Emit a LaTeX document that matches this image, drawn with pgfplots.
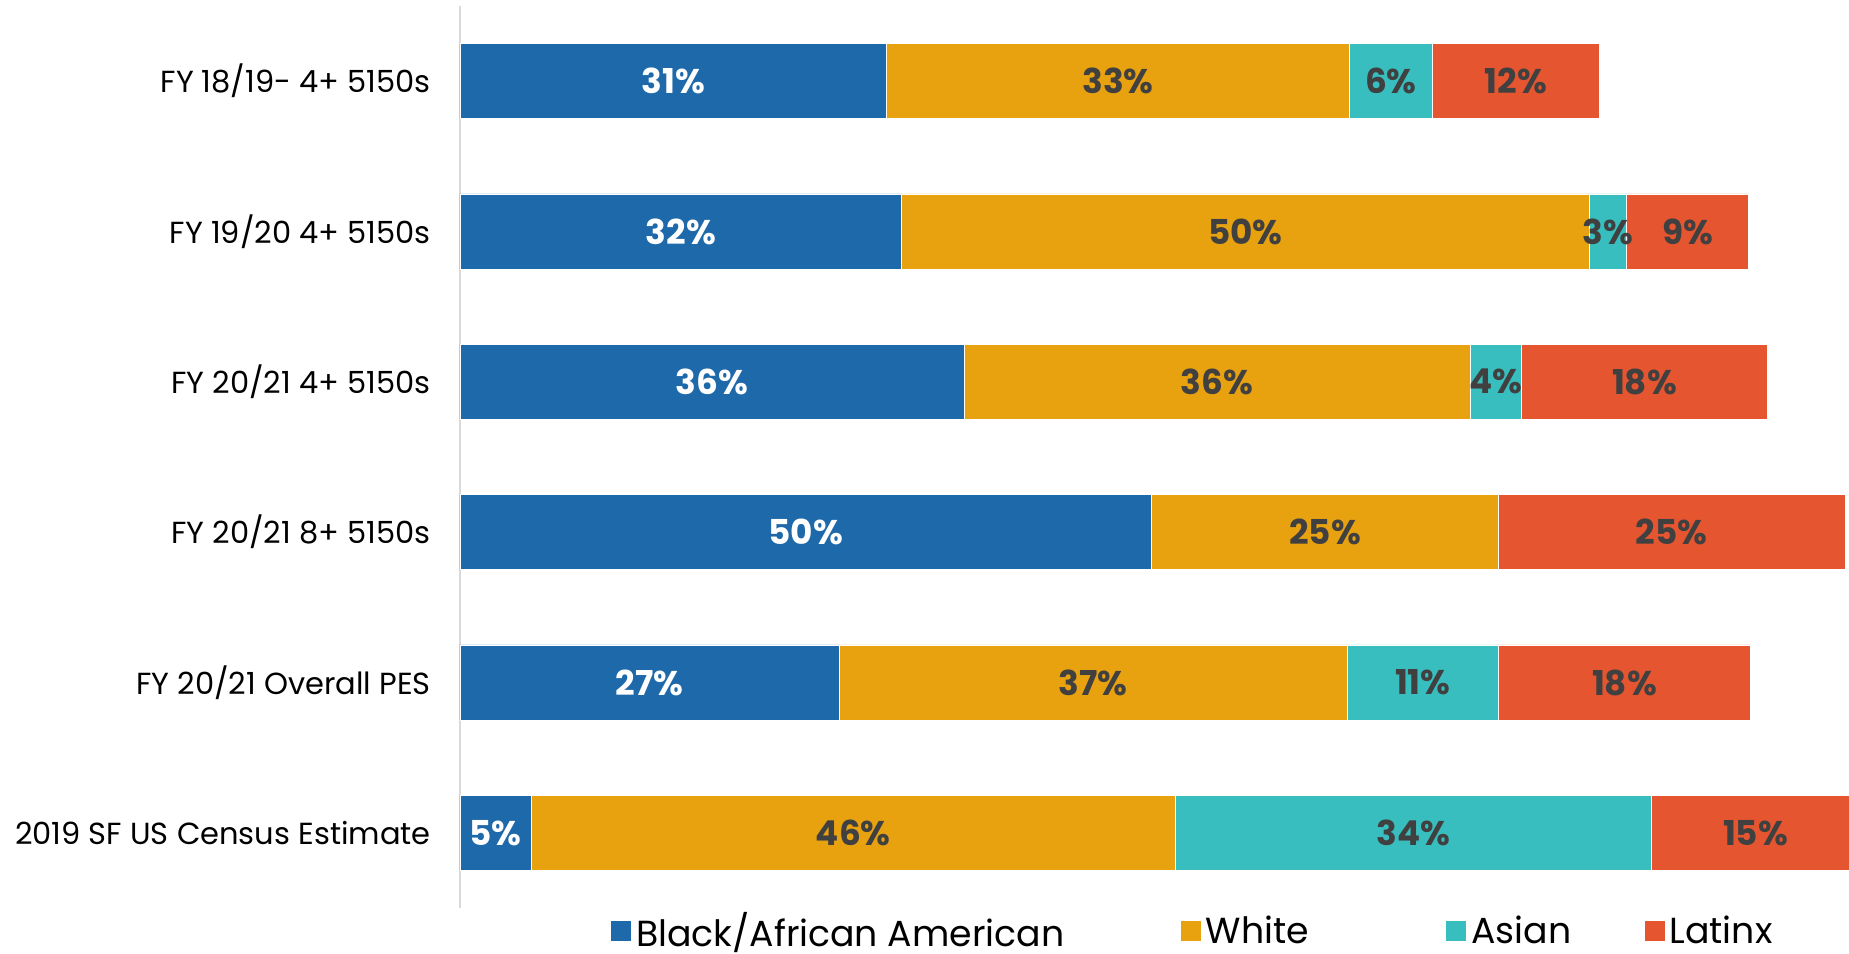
\documentclass[border=0pt]{standalone}
\usepackage{fontspec}
\setmainfont{Poppins}
\usepackage{pgfplots}
\usepackage{pgfplotstable}
\pgfplotsset{compat=1.18}
\definecolor{cBlack}{RGB}{30,105,170}
\definecolor{cWhite}{RGB}{232,162,16}
\definecolor{cAsian}{RGB}{56,190,190}
\definecolor{cLatinx}{RGB}{229,85,48}
\definecolor{labgray}{RGB}{64,64,64}
\definecolor{axisgray}{RGB}{217,217,217}
\pgfplotstableread{
y  b     bl     w     wl     a     al     l     ll
0  30.78 31\%   33.46 33\%   5.96  6\%    12.09 12\%
1  31.89 32\%   49.63 50\%   2.73  3\%    8.77  9\%
2  36.40 36\%   36.53 36\%   3.74  4\%    17.71 18\%
3  49.94 50\%   25.03 25\%   0     {}     25.03 25\%
4  27.37 27\%   36.70 37\%   10.90 11\%   18.22 18\%
5  5.15  5\%    46.49 46\%   34.40 34\%   15.00 15\%
}\datatable
\begin{document}
\begin{tikzpicture}
\begin{axis}[
  at={(0pt,0pt)}, anchor=south west,
  scale only axis,
  width=559.76pt, height=360.8pt,
  xbar stacked,
  bar width=0.5,
  xmin=0, xmax=101.04,
  ymin=-0.5, ymax=5.5,
  y dir=reverse,
  axis x line=none,
  axis y line*=left,
  y axis line style={draw=axisgray, line width=0.8pt},
  ytick={0,1,2,3,4,5},
  yticklabels={FY 18/19- 4+ 5150s, FY 19/20 4+ 5150s, FY 20/21 4+ 5150s, FY 20/21 8+ 5150s, FY 20/21 Overall PES, 2019 SF US Census Estimate},
  major tick length=0pt,
  yticklabel style={font=\fontsize{12.2}{15}\selectfont, color=black, inner sep=0pt, anchor=east, xshift=-11.5pt},
  point meta=explicit symbolic,
  nodes near coords,
  nodes near coords align=center,
  every node near coord/.append style={font=\bfseries\fontsize{13.7}{16}\selectfont, anchor=center},
  legend image code/.code={\fill[#1, draw=none] (0pt,-4pt) rectangle (8pt,4pt);},
  legend columns=4,
  legend style={draw=none, fill=none, inner sep=0pt, at={(0.1076,-0.026)}, anchor=west,
    font=\fontsize{14.5}{16}\selectfont,
    /tikz/every even column/.append style={column sep=0pt}},
]
\addplot[fill=cBlack, draw=white, line width=0.3pt, every node near coord/.append style={color=white}] table[x=b, y=y, meta=bl] {\datatable};
\addlegendentry{\makebox[215.9pt][l]{Black/African American}}
\addplot[fill=cWhite, draw=white, line width=0.3pt, every node near coord/.append style={color=labgray}] table[x=w, y=y, meta=wl] {\datatable};
\addlegendentry{\makebox[94.2pt][l]{White}}
\addplot[fill=cAsian, draw=white, line width=0.3pt, every node near coord/.append style={color=labgray}] table[x=a, y=y, meta=al] {\datatable};
\addlegendentry{\makebox[67.3pt][l]{Asian}}
\addplot[fill=cLatinx, draw=white, line width=0.3pt, every node near coord/.append style={color=labgray}] table[x=l, y=y, meta=ll] {\datatable};
\addlegendentry{Latinx}
\end{axis}
\pgfresetboundingbox
\path[use as bounding box] (-184pt,-18.4pt) rectangle (555.6pt,363.2pt);
\end{tikzpicture}
\end{document}
